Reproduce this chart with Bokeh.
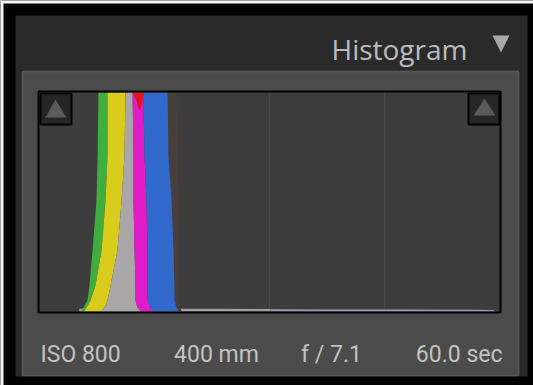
from bokeh.plotting import figure
from bokeh.models import Range1d, Label
from bokeh.embed import file_html
from bokeh.resources import INLINE

# ---------------- data ----------------
bin_max = 255
level_max = 100
# heights (percent of clipped histogram height) at which band edges were read
levels = [0, 1.8, 5.0, 11.9, 27.9, 50.7, 71.2, 100]
# band edges in tone bins (0..255), bottom to top
green_left = [22.7, 24.4, 26.6, 27.7, 29.4, 31.6, 32.2, 32.7]
yellow_left = [24.9, 26.1, 28.3, 31.0, 34.4, 36.6, 37.7, 37.7]
gray_left = [33.8, 36.0, 37.7, 39.4, 43.2, 45.5, 47.1, 47.7]
magenta_left = [56.0, 54.3, 53.2, 53.2, 52.7, 52.1, 52.1, 51.6]
blue_left = [62.6, 61.5, 59.9, 59.9, 59.9, 59.3, 58.2, 57.6]
blue_right = [77.1, 75.9, 74.8, 74.8, 74.3, 73.2, 71.5, 71.0]
shade_right = [78.8, 78.2, 77.6, 77.6, 77.6, 77.1, 76.5, 76.0]
# red-only wedge at the clipped top
red_levels = [91.8, 92.7, 95.9, 100]
red_left = [55.4, 54.9, 54.0, 51.6]
red_right = [55.4, 56.0, 57.1, 57.6]
# faint low-count tail along the baseline
tail_bins_low = [22, 60, 100, 128]
tail_low = [1.3, 1.3, 1.2, 1.1]
tail_bins_high = [128, 160, 200, 240, 252]
tail_high = [1.0, 0.9, 0.9, 0.8, 0.7]
# Lightroom tone-zone separators
zone_edges = [63.75, 127.5, 191.25]
# texts
panel_title = "Histogram"
info_labels = ["ISO 800", "400 mm", "f / 7.1", "60.0 sec"]

# ---------------- layout (page pixels) ----------------
W, H = 533, 385
HX0, HX1, HY0, HY1 = 39, 499, 92, 311  # histogram area: left, right, top, bottom

sx = bin_max / (HX1 - HX0)
sy = level_max / (HY1 - HY0)
bins_range = Range1d(start=-HX0 * sx, end=bin_max + (W - HX1) * sx)
pct_range = Range1d(start=-(H - HY1) * sy, end=level_max + HY0 * sy)

p = figure(width=W, height=H,
           x_range=Range1d(0, W), y_range=Range1d(H, 0),
           x_axis_type=None, y_axis_type=None,
           toolbar_location=None, output_backend="svg",
           min_border=0, min_border_left=0, min_border_right=0,
           min_border_top=0, min_border_bottom=0,
           background_fill_color="#000000", border_fill_color="#000000",
           outline_line_color=None)
p.extra_x_ranges = {"bins": bins_range}
p.extra_y_ranges = {"pct": pct_range}
H_ = dict(x_range_name="bins", y_range_name="pct")

# page edge strips and panel layers
p.quad(left=0, right=W, top=0, bottom=3, fill_color="#f4f4f4", line_color=None)
p.quad(left=0, right=3, top=0, bottom=H, fill_color="#f4f4f4", line_color=None)
p.quad(left=15, right=527, top=15, bottom=376, fill_color="#2a2a2a", line_color=None)
p.quad(left=22, right=518, top=71, bottom=375, fill_color="#4b4b4b",
       line_color="#585858", line_width=1.5)
p.quad(left=0, right=bin_max, bottom=0, top=level_max, fill_color="#3d3d3d",
       line_color=None, **H_)
p.segment(x0=zone_edges, y0=0, x1=zone_edges, y1=level_max,
          line_color="#474747", line_width=1, **H_)

# histogram bands
p.varea(x=tail_bins_low, y1=0, y2=tail_low, fill_color="#a0a0a0", **H_)
p.varea(x=tail_bins_high, y1=0, y2=tail_high, fill_color="#9c9cbc", **H_)
p.harea(x1=blue_right, x2=shade_right, y=levels, fill_color="#473f3c", **H_)
p.harea(x1=green_left, x2=yellow_left, y=levels, fill_color="#3fae3f", **H_)
p.harea(x1=yellow_left, x2=gray_left, y=levels, fill_color="#d9cc1d", **H_)
p.harea(x1=gray_left, x2=magenta_left, y=levels, fill_color="#a9a7a7", **H_)
p.harea(x1=magenta_left, x2=blue_left, y=levels, fill_color="#e01cc8", **H_)
p.harea(x1=blue_left, x2=blue_right, y=levels, fill_color="#3168cc", **H_)
p.harea(x1=red_left, x2=red_right, y=red_levels, fill_color="#e0141c", **H_)

# clipping-warning boxes
for (bx0, bx1, tri) in [(40, 71, [(55, 99), (45, 117), (66, 117)]),
                        (468, 499, [(484, 98), (473, 115), (495, 115)])]:
    p.quad(left=bx0, right=bx1, top=93, bottom=124, fill_color="#262626",
           line_color="#000000", line_width=2)
    p.patch(x=[a for a, b in tri], y=[b for a, b in tri], fill_color="#5a5a5a",
            line_color=None)

# histogram frame border
p.quad(left=HX0 - 1, right=HX1 + 1, top=HY0 - 1, bottom=HY1 + 1, fill_color=None,
       line_color="#000000", line_width=2)

# header
p.add_layout(Label(x=467, y=48, text=panel_title, text_font="Open Sans",
                   text_font_size="28px", text_color="#bcbcbc",
                   text_align="right", text_baseline="alphabetic"))
p.patch(x=[492, 509, 500.5], y=[35, 35, 52], fill_color="#a9a9a9", line_color=None)

# exposure info row
info_x = [40, 216, 331, 502]
info_align = ["left", "center", "center", "right"]
for t, ix, al in zip(info_labels, info_x, info_align):
    p.add_layout(Label(x=ix, y=354, text=t, text_font="Roboto",
                       text_font_size="23px", text_color="#c2c2c2",
                       text_align=al, text_baseline="alphabetic"))

open("out.html", "w").write(file_html(p, INLINE, title="Histogram"))
